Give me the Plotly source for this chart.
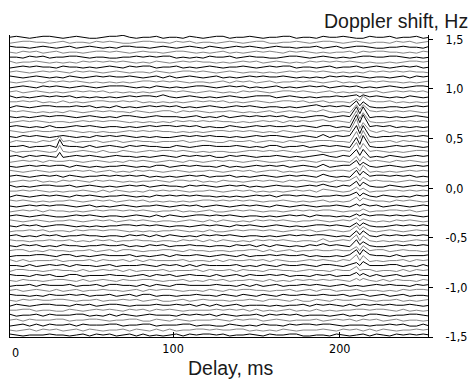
import plotly.graph_objects as go

# ---------------- data ----------------
delay_ms = [2, 6, 10, 14, 18, 22, 26, 30, 34, 38, 42, 46, 50, 54, 58, 62,
            66, 70, 74, 78, 82, 86, 90, 94, 98, 102, 106, 110, 114, 118, 122, 126,
            130, 134, 138, 142, 146, 150, 154, 158, 162, 166, 170, 174, 178, 182, 186, 190,
            194, 198, 202, 206, 210, 214, 218, 222, 226, 230, 234, 238, 242, 246, 250, 254]

doppler_hz = [1.52, 1.47, 1.42, 1.37, 1.32, 1.27, 1.22, 1.17, 1.12, 1.07, 1.02,
              0.97, 0.92, 0.87, 0.82, 0.77, 0.72, 0.67, 0.62, 0.57, 0.52,
              0.47, 0.42, 0.37, 0.32, 0.27, 0.22, 0.17, 0.12, 0.07, 0.02,
              -0.03, -0.08, -0.13, -0.18, -0.23, -0.28, -0.33, -0.38, -0.43, -0.48,
              -0.53, -0.58, -0.63, -0.68, -0.73, -0.78, -0.83, -0.88, -0.93, -0.98,
              -1.03, -1.08, -1.13, -1.18, -1.23, -1.28, -1.33, -1.38, -1.43, -1.48]

# wiggle of each trace at every delay sample, digit 4 = no deviation
noise_rows = [
    "45434554 34543345 56434453 44354345 53445434 45534435 44543354 45344534",
    "34554434 53443545 43345544 35453443 45434553 34454345 54345434 43545345",
    "54434543 45345434 35544345 43454354 34545434 54434453 45345543 34454435",
    "43545345 34434554 54345443 45543434 53434545 43545434 34453545 54434354",
    "44354534 45543443 34454545 53434354 45345443 34554345 43434554 45543434",
    "53445434 34354545 45434354 34545443 43454534 54343545 45454343 34345545",
    "34545443 54434345 43545534 45343454 34454345 45534434 53445345 43454534",
    "45434545 43545434 54344354 34554543 45434434 34545545 43434354 54545443",
    "54345434 35434545 44543453 53454345 34345454 45434343 54545434 43453545",
    "43454354 54543434 34345545 45434434 53545345 34454543 45343454 54434345",
    "34543545 43454345 55434354 34345543 45453434 53434545 34545343 45434554",
    "45345434 34545453 43434345 54543454 34354543 45545434 53434345 34545453",
    "53434545 45343434 34545546 43454343 45434555 34543434 45454345 43435434",
    "44545343 53434554 45453434 34345454 53434543 45545345 34434554 45343434",
    "35434554 44545343 53434545 45343454 34545434 43434564 54545343 34434545",
    "54543434 35434545 44354345 53545434 45434345 34543546 43434354 54545434",
    "43434545 54345434 35543454 44345343 53454545 45343455 34545434 43434543",
    "34545434 43454545 54343434 35454545 44343454 53545456 45434343 34545454",
    "45434353 34545434 43434545 54545343 35434545 44545435 53434545 45343434",
    "54345445 45434343 34545454 43434345 54545434 35434544 44545353 53434545",
    "43545434 54343545 45434343 34545454 43434545 54345436 35454343 44545454",
    "35443546 45344534 53454434 44534543 35445345 43543455 54434434 45354543",
    "44534453 54435345 43545443 35434554 44543435 53445345 45434543 34545434",
    "53445434 43454353 35434545 54543434 43345545 45434553 34545345 43434554",
    "45354543 34545434 54434345 43545453 35454344 54343456 43545434 35434545",
    "34545354 45434543 43545434 54354345 45434543 34545435 54434345 43545434",
    "43454545 53543434 45434355 34545443 53434545 45345436 34554343 45434545",
    "54345434 44545345 34354543 45434454 34545345 53434545 45543434 34345454",
    "45434545 35434454 54545343 43454534 45343454 34545436 43434545 54545343",
    "34545343 54543545 43434454 35545343 54434545 43545434 35454345 44345434",
    "53434554 45345434 34545345 44354543 45453434 54434546 43545343 35434545",
    "44545434 34454353 54343545 45434454 34545343 43454536 54343434 45545454",
    "35434545 43545434 45434354 54545443 43434545 35545434 45454343 54343545",
    "54543434 45434545 34545343 43434554 54545434 45434345 34345454 43545434",
    "43454545 54345343 45434454 34545345 43454543 54345434 45434545 34543454",
    "34545354 43434545 54545434 45343453 34545434 43454545 54343434 45545345",
    "45434543 34545434 43454353 54345545 45434434 34545354 43434545 54545434",
    "54345434 45434545 34545434 43454353 54343545 45434454 34545343 43545434",
    "43545345 54343434 45545454 34434545 43545434 54343455 45434343 34545454",
    "34454534 43545545 54343434 45434353 34545545 43454534 54345343 45434545",
    "45343545 34454434 43545353 54343545 45434434 34545455 43434343 54545454",
    "54434454 45343545 34454434 43545353 54343545 45434436 34545343 43434545",
    "43545343 54434454 45343545 34454434 43545353 54343546 45434343 34545454",
    "45534354 43445345 35543445 54354434 43445535 34534454 45443345 53454434",
    "34445543 55343454 44534345 35445434 54353445 45445343 34354554 43534445",
    "53534445 34445354 45353544 44534435 35445453 54334545 43545434 34453545",
    "44353454 53544345 34445435 45353544 44534354 35445435 54353444 45534353",
    "35544345 44353454 53534445 34445354 45354435 54434544 35445353 44353545",
    "54435453 35534445 44345354 53454435 34535445 45344354 53445435 34534544",
    "43544345 54353454 35445543 44534354 53445435 34354545 45435443 53544354",
    "34453544 45344535 54435354 35544445 44353534 53445454 34534345 45443545",
    "45345435 34534454 43453545 54344354 35455443 44534535 53445344 34354554",
    "54434354 45453445 34535534 43445443 54354354 35445445 44534534 53453443",
    "43545445 54344534 45453453 34534544 43445435 54353354 35445543 44534345",
    "35434554 43545345 54344454 45453535 34534443 43445354 54353545 45445434",
    "44553443 35434545 43545354 54344445 45453534 34534353 43445545 54353434",
    "53445354 44553435 35434544 43545453 54344535 45453444 34534355 43445543",
    "45354445 53445543 44553354 35434445 43545534 54344453 45453545 34534434",
    "34535354 45354445 53445534 44553443 35434354 43545545 54344434 45453353",
    "43453545 34535434 45354353 53445545 44553434 35434445 43545353 54344545",
    "54344454 43453545 34535343 45354554 53445435 44553344 35434535 43545454",
]
noise_unit_hz = 0.01

# strong echo near 210-214 ms (two peaks with a dip between)
main_echo_delays = [210, 212, 214]
main_echo_traces = [12, 13, 14, 15, 16, 17, 18, 19, 20, 21, 22, 23, 24, 25, 26, 27, 28, 29, 30,
                    31, 32, 33, 34, 35, 36, 37, 38, 39, 40, 41, 42, 43, 44, 45, 46, 47, 48, 49]
main_echo_peak1 = [0.02, 0.03, 0.05, 0.07, 0.09, 0.11, 0.12, 0.12, 0.11, 0.10, 0.09, 0.08, 0.06,
                   0.05, 0.06, 0.05, 0.06, 0.05, 0.04, 0.05, 0.04, 0.03, 0.02, 0.01, 0.02, 0.02,
                   0.03, 0.04, 0.05, 0.05, 0.06, 0.05, 0.06, 0.05, 0.04, 0.03, 0.02, 0.01]
main_echo_dip = [0.0, 0.01, 0.01, 0.02, 0.03, 0.03, 0.04, 0.03, 0.03, 0.03, 0.02, 0.02, 0.01,
                 0.0, 0.01, 0.0, 0.01, 0.0, 0.0, 0.01, 0.0, 0.0, 0.0, 0.0, 0.0, 0.0,
                 0.0, 0.01, 0.01, 0.0, 0.01, 0.0, 0.01, 0.0, 0.0, 0.0, 0.0, 0.0]
main_echo_peak2 = [0.03, 0.05, 0.06, 0.08, 0.10, 0.10, 0.11, 0.10, 0.12, 0.11, 0.10, 0.09, 0.07,
                   0.06, 0.05, 0.06, 0.04, 0.05, 0.05, 0.03, 0.04, 0.03, 0.01, 0.02, 0.01, 0.03,
                   0.04, 0.05, 0.06, 0.06, 0.05, 0.06, 0.05, 0.05, 0.04, 0.02, 0.02, 0.02]

# weak echo near 32 ms
small_echo_delay = 32
small_echo_traces = [21, 22, 23, 24]
small_echo_amp = [0.05, 0.07, 0.06, 0.04]

y_tick_vals = [1.5, 1.0, 0.5, 0.0, -0.5, -1.0, -1.5]
y_tick_text = ["1,5", "1,0", "0,5", "0,0", "-0,5", "-1,0", "-1,5"]
x_tick_vals = [100, 200]
x_tick_text = ["100", "200"]

# ---------------- figure ----------------
tick_font = dict(family="Liberation Sans Narrow, DejaVu Sans Condensed, Arial Narrow, sans-serif",
                 size=12.5, color="#000")
title_font = dict(family="Liberation Sans, Arial, sans-serif", size=19.5, color="#1a1a1a")

fig = go.Figure()
for k, d in enumerate(doppler_hz):
    row = noise_rows[k].replace(" ", "")
    pts = {x: d + (int(c) - 4) * noise_unit_hz for x, c in zip(delay_ms, row)}
    if k in main_echo_traces:
        i = main_echo_traces.index(k)
        for x, a in zip(main_echo_delays, (main_echo_peak1[i], main_echo_dip[i], main_echo_peak2[i])):
            pts[x] = pts.get(x, d) + a
    if k in small_echo_traces:
        i = small_echo_traces.index(k)
        pts[small_echo_delay] = pts.get(small_echo_delay, d) + small_echo_amp[i]
    xs = sorted(pts)
    fig.add_trace(go.Scatter(
        x=xs, y=[pts[x] for x in xs], mode="lines",
        line=dict(color="#000000" if k % 2 == 0 else "#858585", width=1),
        hoverinfo="skip", showlegend=False))

fig.update_layout(
    width=476, height=388,
    margin=dict(l=9, r=39, t=35, b=51),
    paper_bgcolor="white", plot_bgcolor="white",
    xaxis=dict(range=[2.2, 252.9], tickvals=x_tick_vals, ticktext=x_tick_text,
               ticks="inside", ticklen=5, tickcolor="#000", showline=True, linecolor="#000",
               linewidth=1, showgrid=False, zeroline=False, tickfont=tick_font),
    yaxis=dict(range=[-1.5, 1.543], side="right", tickvals=y_tick_vals, ticktext=y_tick_text,
               ticks="outside", ticklen=4, tickcolor="#000", showline=True, mirror=True,
               linecolor="#000", linewidth=1, showgrid=False, zeroline=False,
               tickfont=tick_font, ticklabelstandoff=10),
    annotations=[
        dict(text="0", xref="paper", yref="paper", x=0.0133, y=-0.05, showarrow=False,
             xanchor="center", yanchor="middle", font=tick_font),
        dict(text="Doppler shift, Hz", xref="paper", yref="paper", x=1.1, y=1.048,
             showarrow=False, xanchor="right", yanchor="middle", font=title_font),
        dict(text="Delay, ms", xref="paper", yref="paper", x=0.528, y=-0.103,
             showarrow=False, xanchor="center", yanchor="middle", font=title_font),
    ],
)

fig.write_html("out.html")
